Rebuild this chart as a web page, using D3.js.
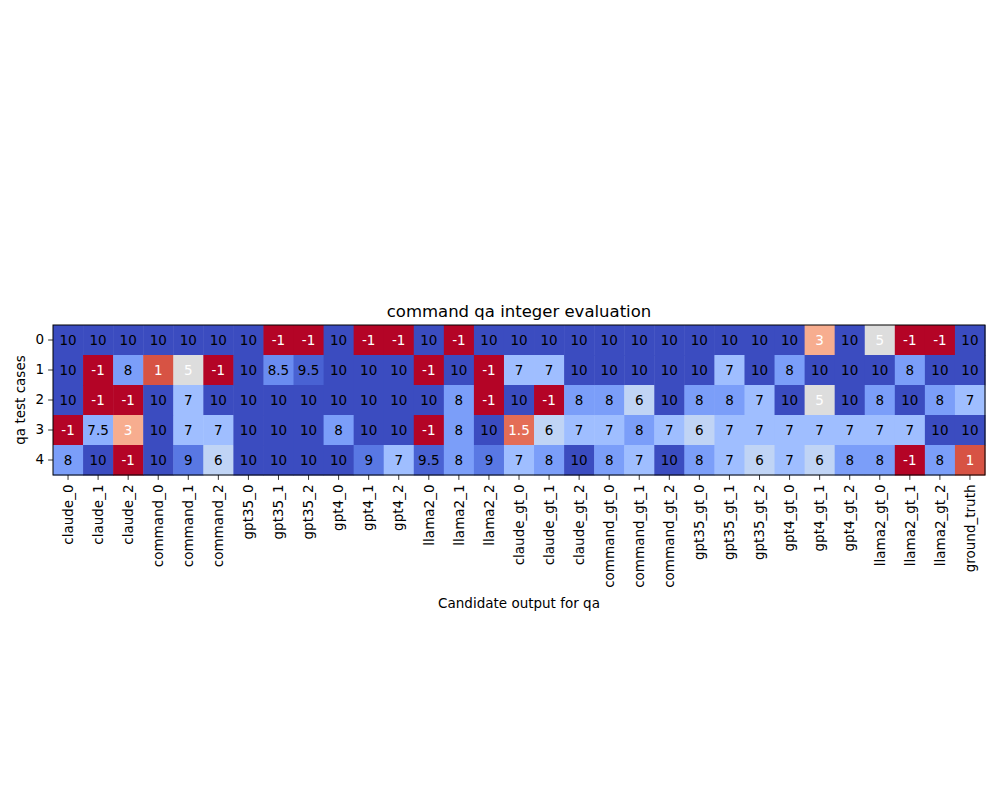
<!DOCTYPE html>
<meta charset="utf-8">
<style>
  body { margin: 0; background: white; }
  svg text { font-family: "DejaVu Sans", sans-serif; }
</style>
<body>
<svg id="chart" width="1000" height="800"></svg>
<script src="https://cdn.jsdelivr.net/npm/d3@7"></script>
<script>
// candidate outputs along the x axis
var candidates = ["claude_0", "claude_1", "claude_2", "command_0", "command_1", "command_2",
  "gpt35_0", "gpt35_1", "gpt35_2", "gpt4_0", "gpt4_1", "gpt4_2",
  "llama2_0", "llama2_1", "llama2_2", "claude_gt_0", "claude_gt_1", "claude_gt_2",
  "command_gt_0", "command_gt_1", "command_gt_2", "gpt35_gt_0", "gpt35_gt_1", "gpt35_gt_2",
  "gpt4_gt_0", "gpt4_gt_1", "gpt4_gt_2", "llama2_gt_0", "llama2_gt_1", "llama2_gt_2", "ground_truth"];

// qa test cases along the y axis
var testCases = ["0", "1", "2", "3", "4"];

// scores, one array per test case
var case0 = [10, 10, 10, 10, 10, 10, 10, -1, -1, 10, -1, -1, 10, -1, 10, 10, 10, 10, 10, 10, 10, 10, 10, 10, 10, 3, 10, 5, -1, -1, 10];
var case1 = [10, -1, 8, 1, 5, -1, 10, 8.5, 9.5, 10, 10, 10, -1, 10, -1, 7, 7, 10, 10, 10, 10, 10, 7, 10, 8, 10, 10, 10, 8, 10, 10];
var case2 = [10, -1, -1, 10, 7, 10, 10, 10, 10, 10, 10, 10, 10, 8, -1, 10, -1, 8, 8, 6, 10, 8, 8, 7, 10, 5, 10, 8, 10, 8, 7];
var case3 = [-1, 7.5, 3, 10, 7, 7, 10, 10, 10, 8, 10, 10, -1, 8, 10, 1.5, 6, 7, 7, 8, 7, 6, 7, 7, 7, 7, 7, 7, 7, 10, 10];
var case4 = [8, 10, -1, 10, 9, 6, 10, 10, 10, 10, 9, 7, 9.5, 8, 9, 7, 8, 10, 8, 7, 10, 8, 7, 6, 7, 6, 8, 8, -1, 8, 1];
var scores = [case0, case1, case2, case3, case4];

// coolwarm colormap stops (Moreland), used reversed
var coolwarm = ["#3b4cc0", "#445acc", "#4d68d7", "#5775e1", "#6282ea", "#6c8ef1", "#779af7", "#82a5fb",
  "#8db0fe", "#98b9ff", "#a3c2ff", "#aec9fd", "#b8d0f9", "#c2d5f4", "#ccd9ee", "#d5dbe6",
  "#dddddd", "#e5d8d1", "#ecd3c5", "#f1ccb9", "#f5c4ad", "#f7bba0", "#f7b194", "#f7a687",
  "#f49a7b", "#f18d6f", "#ec7f63", "#e57058", "#de604d", "#d55042", "#cb3e38", "#c0282f", "#b40426"];

var margin = {left: 53, top: 325};
var width = 932, height = 150;

var cells = [];
scores.forEach(function(row, i) {
  row.forEach(function(v, j) {
    cells.push({row: testCases[i], col: candidates[j], value: v});
  });
});

var x = d3.scaleBand().domain(candidates).range([0, width]);
var y = d3.scaleBand().domain(testCases).range([0, height]);

var cmap = d3.scaleLinear()
  .domain(d3.range(coolwarm.length).map(function(i) { return i / (coolwarm.length - 1); }))
  .range(coolwarm)
  .interpolate(d3.interpolateRgb);
var norm = d3.scaleLinear().domain([0, 10]).range([1, 0]).clamp(true);
function color(v) { return cmap(norm(v)); }

var svg = d3.select("#chart");
var g = svg.append("g").attr("transform", "translate(" + margin.left + "," + margin.top + ")");

g.selectAll("rect.cell")
  .data(cells)
  .enter().append("rect")
  .attr("class", "cell")
  .attr("x", function(d) { return x(d.col); })
  .attr("y", function(d) { return y(d.row); })
  .attr("width", x.bandwidth() + 0.5)
  .attr("height", y.bandwidth() + 0.5)
  .attr("fill", function(d) { return color(d.value); });

g.selectAll("text.val")
  .data(cells)
  .enter().append("text")
  .attr("class", "val")
  .attr("x", function(d) { return x(d.col) + x.bandwidth() / 2; })
  .attr("y", function(d) { return y(d.row) + y.bandwidth() / 2; })
  .attr("dy", "0.36em")
  .attr("text-anchor", "middle")
  .attr("font-size", "13.5px")
  .attr("fill", function(d) { return d.value <= 5 ? "white" : "black"; })
  .text(function(d) { return d.value; });

// axes
var xAxis = g.append("g")
  .attr("transform", "translate(0," + height + ")")
  .call(d3.axisBottom(x).tickSizeOuter(0).tickSize(4.9).tickPadding(4));
xAxis.select(".domain").remove();
xAxis.selectAll("text")
  .attr("font-size", "13.5px")
  .attr("fill", "black")
  .attr("transform", "rotate(-90)")
  .attr("text-anchor", "end")
  .attr("x", -9.5)
  .attr("y", 0)
  .attr("dy", "0.35em");
xAxis.selectAll("line").attr("stroke-width", 0.8);

var yAxis = g.append("g")
  .call(d3.axisLeft(y).tickSizeOuter(0).tickSize(4.9).tickPadding(4));
yAxis.select(".domain").remove();
yAxis.selectAll("text").attr("font-size", "13.5px").attr("fill", "black");
yAxis.selectAll("line").attr("stroke-width", 0.8);

// frame
g.append("rect")
  .attr("width", width)
  .attr("height", height)
  .attr("fill", "none")
  .attr("stroke", "black")
  .attr("stroke-width", 1);

svg.append("text")
  .attr("x", margin.left + width / 2)
  .attr("y", margin.top - 8)
  .attr("text-anchor", "middle")
  .attr("font-size", "16.5px")
  .text("command qa integer evaluation");

svg.append("text")
  .attr("x", margin.left + width / 2)
  .attr("y", 608)
  .attr("text-anchor", "middle")
  .attr("font-size", "13.5px")
  .text("Candidate output for qa");

svg.append("text")
  .attr("transform", "translate(25," + (margin.top + height / 2) + ") rotate(-90)")
  .attr("text-anchor", "middle")
  .attr("font-size", "13.5px")
  .text("qa test cases");
</script>
</body>
